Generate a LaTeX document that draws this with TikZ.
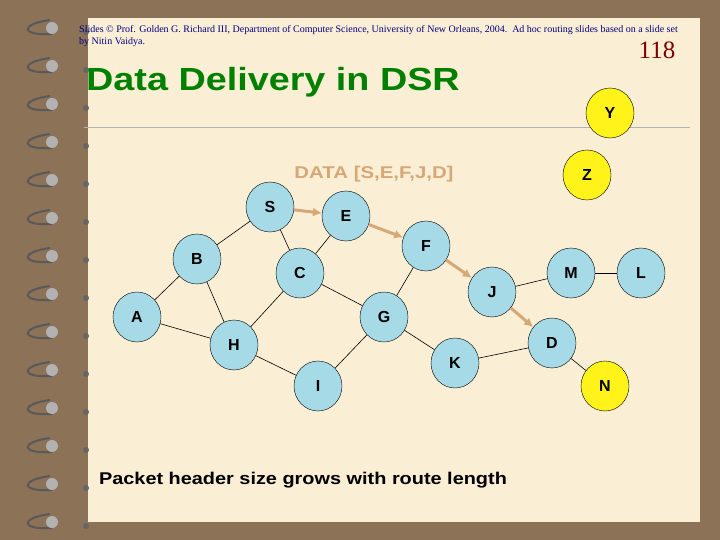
\documentclass[tikz,border=0pt]{standalone}
\usepackage{fontspec}
\setmainfont{Liberation Sans}
\newfontfamily\serifx{Liberation Serif}
\definecolor{nodec}{RGB}{166,218,230}
\definecolor{tan}{RGB}{214,168,120}
\definecolor{outer}{RGB}{140,115,88}
\definecolor{paper}{RGB}{250,238,212}
\begin{document}
\begin{tikzpicture}[x=1pt,y=-1pt,
  nd/.style={ellipse,draw=black,fill=nodec,minimum width=48pt,minimum height=50pt,inner sep=0pt,font=\bfseries\fontsize{16}{16}\selectfont},
  ynd/.style={nd,fill=yellow!90!white},
  ln/.style={draw=black,line width=0.6pt},
  arr/.style={draw=tan,line width=3pt,-{Latex[length=9pt,width=9pt]}}]
\usetikzlibrary{arrows.meta,shapes.geometric}
\useasboundingbox (0,0) rectangle (720,540);
\fill[outer] (0,0) rectangle (720,540);
\fill[paper] (88,18) rectangle (700,522);
\draw[gray!60] (84,127) -- (690,127);
\foreach \y in {20,58,96,134,172,210,248,286,324,362,400,438,476,514}{
  \draw[gray!70!black,line width=2pt] (52,\y+14) .. controls (20,\y+16) and (20,\y+4) .. (50,\y);
  \fill[gray!60] (52,\y+8) circle (6);
  \fill[gray!80!black] (86,\y+12) circle (3);
}
\node[anchor=north west,align=left,text=blue!50!black,font=\serifx\fontsize{10}{12}\selectfont,inner sep=0pt] (hdr) at (79,25) {Slides © Prof. Golden G. Richard III, Department of Computer Science, University of New Orleans, 2004.\ \ Ad hoc routing slides based on a slide set\\by Nitin Vaidya.};
\node[text=red!50!black,font=\serifx\fontsize{25}{25}\selectfont] (num) at (657,50) {118};
\node[text=green!50!black,font=\bfseries\fontsize{32}{32}\selectfont,xscale=1.18] (title) at (273,82) {Data Delivery in DSR};
\node[text=tan,font=\bfseries\fontsize{17}{17}\selectfont,xscale=1.2] (data) at (374,174) {DATA [S,E,F,J,D]};
\node[ynd] (Y) at (610,113) {Y};
\node[ynd] (Z) at (587,175) {Z};
\node[nd] (S) at (270,207) {S};
\node[nd] (E) at (346,216) {E};
\node[nd] (F) at (426,246) {F};
\node[nd] (B) at (197,259) {B};
\node[nd] (C) at (300,273) {C};
\node[nd] (J) at (492,292) {J};
\node[nd] (M) at (571,273) {M};
\node[nd] (L) at (641,273) {L};
\node[nd] (A) at (137,317) {A};
\node[nd] (G) at (384,317) {G};
\node[nd] (H) at (234,345) {H};
\node[nd] (K) at (455,363) {K};
\node[nd] (D) at (552,343) {D};
\node[nd] (I) at (318,386) {I};
\node[ynd] (N) at (605,386) {N};
\foreach \a/\b in {A/B,A/H,B/S,B/H,S/C,C/E,C/H,C/G,F/G,G/I,G/K,H/I,K/D,J/M,M/L,D/N}
  \draw[ln] (\a) -- (\b);
\foreach \a/\b in {S/E,E/F,F/J,J/D}
  \draw[arr] (\a) -- (\b);
\node[font=\bfseries\fontsize{17}{17}\selectfont,xscale=1.17] (cap) at (303,480) {Packet header size grows with route length};
\end{tikzpicture}
\end{document}
